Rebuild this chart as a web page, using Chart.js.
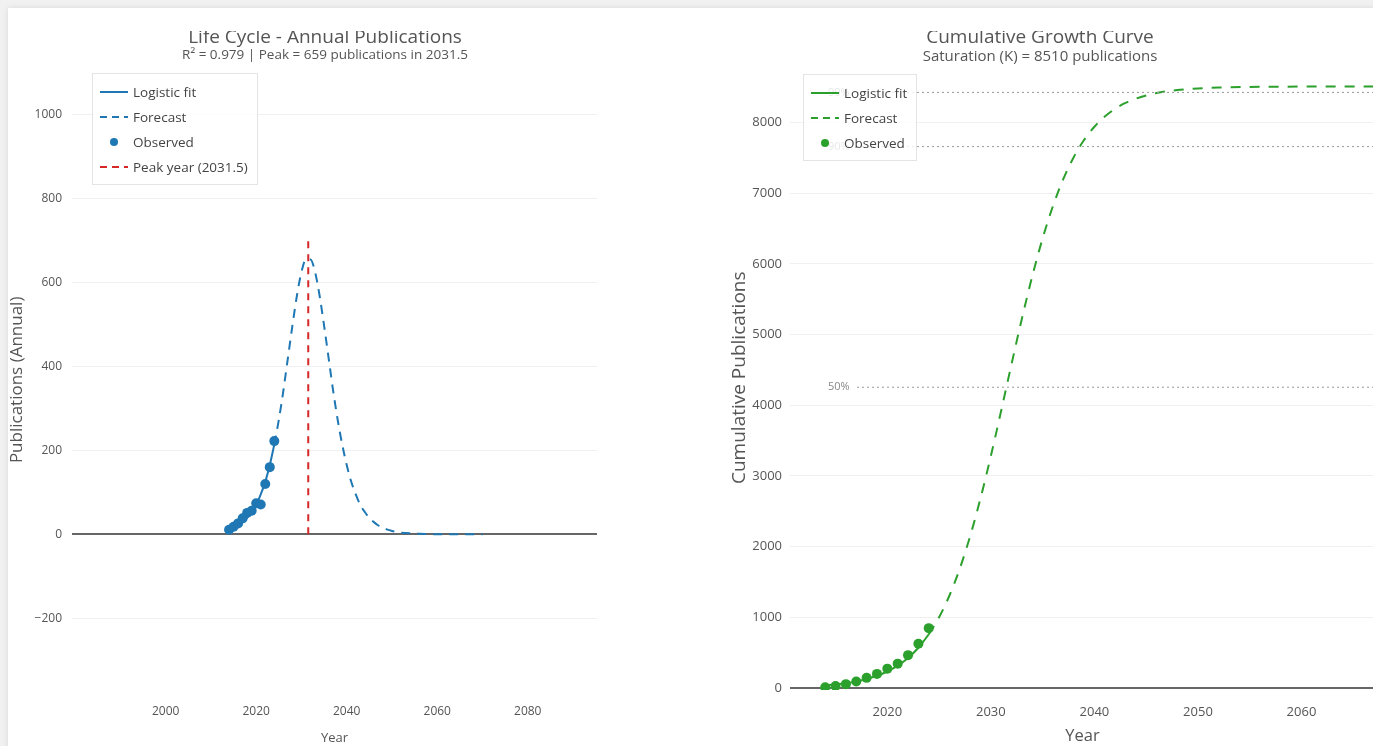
<!DOCTYPE html>
<html>
<head>
<meta charset="utf-8">
<title>Life Cycle & Cumulative Growth</title>
<script src="https://cdn.jsdelivr.net/npm/chart.js@4.4.1/dist/chart.umd.min.js"></script>
<style>
  html, body { margin:0; padding:0; width:1373px; height:746px; overflow:hidden; background:#f1f1f1; font-family:"Open Sans", sans-serif; }
  .card { position:absolute; left:8px; top:8px; width:1420px; height:800px; background:#fff; box-shadow:0 0 6px rgba(0,0,0,.10); }
  .panel { position:absolute; top:0; height:746px; }
  #leftPanel { left:0; width:650px; }
  #rightPanel { left:700px; width:680px; }
  .topband { position:absolute; left:8px; top:8px; width:1400px; height:23px; background:#fff; }
  .legend { position:absolute; margin:0; padding:5px 9px 5px 6px; list-style:none; background:rgba(255,255,255,.8); border:1px solid #e4e4e4; font-size:13.5px; color:#444; }
  .legend li { display:flex; align-items:center; height:25px; white-space:nowrap; }
  .legend svg { margin-right:4px; }
</style>
</head>
<body>
<div class="card"></div>
<div class="panel" id="leftPanel"><canvas id="chartLifeCycle"></canvas></div>
<div class="panel" id="rightPanel"><canvas id="chartCumulative"></canvas></div>
<div class="topband"></div>
<ul class="legend" id="legendLeft" style="left:92px;top:73px"></ul>
<ul class="legend" id="legendRight" style="left:803px;top:74px"></ul>

<script>
/* observed publications */
const obsYears = [2014, 2015, 2016, 2017, 2018, 2019, 2020, 2021, 2022, 2023, 2024];
const obsAnnual = [11, 18, 26, 38, 51, 56, 74, 71, 120, 160, 222];
const obsCumulative = [11, 29, 55, 93, 144, 200, 274, 345, 465, 625, 847];

/* logistic fit over the observed range */
const fitAnnual = [12, 16, 21, 29, 39, 53, 70, 95, 125, 165, 214];
const fitCumulative = [37, 51, 69, 94, 128, 173, 234, 316, 425, 570, 758];

/* forecast */
const fcYears = [2024, 2025, 2026, 2027, 2028, 2029, 2030, 2031, 2032, 2033, 2034, 2035, 2036, 2037,
  2038, 2039, 2040, 2041, 2042, 2043, 2044, 2045, 2046, 2047, 2048, 2049, 2050, 2052, 2055, 2060, 2065, 2070];
const fcAnnual = [214, 273, 342, 420, 497, 569, 625, 655, 655, 625, 569, 497, 420, 342,
  273, 214, 165, 125, 95, 70, 53, 39, 29, 21, 16, 11, 8, 4, 2, 0, 0, 0];
const fcCumulative = [758, 1001, 1309, 1690, 2149, 2684, 3283, 3925, 4585, 5227, 5826, 6361, 6820, 7201,
  7509, 7752, 7940, 8084, 8194, 8276, 8337, 8382, 8416, 8441, 8459, 8472, 8482, 8494, 8502, 8508, 8510, 8510];

/* peak + saturation */
const peakYear = 2031.5;
const peakLine = [0, 700];
const satLabels = ['99%', '90%', '50%'];
const satValues = [8425, 7659, 4255];

/* ticks */
const lifeXTicks = [2000, 2020, 2040, 2060, 2080];
const lifeYTicks = [-200, 0, 200, 400, 600, 800, 1000];
const cumXTicks = [2020, 2030, 2040, 2050, 2060];
const cumYTicks = [0, 1000, 2000, 3000, 4000, 5000, 6000, 7000, 8000];

const BLUE = '#1f77b4', GREEN = '#2ca02c', RED = '#d62728';
const FONT = '"Open Sans", sans-serif';
const TXT = '#555';
const pts = (xs, ys) => xs.map((x, i) => ({ x, y: ys[i] }));

// zero line darker, rest faint
const gridColor = c => c.tick && c.tick.value === 0 ? '#666' : '#f0f0f0';
const gridWidth = c => c.tick && c.tick.value === 0 ? 2 : 1;

function baseOptions(o) {
  const scales = {
    x: {
      type: 'linear', min: o.xMin, max: o.xMax,
      grid: { display: false },
      border: { display: false },
      afterBuildTicks: s => { s.ticks = o.xTicks.map(v => ({ value: v })); },
      afterFit: s => { s.height = 56; },
      ticks: { color: TXT, font: { family: FONT, size: o.tickSize }, padding: 6, callback: v => String(v) },
      title: { display: true, text: 'Year', color: TXT, font: { family: FONT, size: o.xTitleSize }, padding: { top: 7, bottom: 0 } },
    },
    y: {
      min: o.yMin, max: o.yMax,
      grid: { color: gridColor, lineWidth: gridWidth, drawTicks: false },
      border: { display: false },
      afterBuildTicks: s => { s.ticks = o.yTicks.map(v => ({ value: v })); },
      afterFit: s => { s.width = o.yWidth; },
      ticks: { color: TXT, font: { family: FONT, size: o.tickSize }, padding: o.yTickPad, callback: v => String(v).replace('-', '\u2212') },
      title: { display: true, text: o.yTitle, color: TXT, font: { family: FONT, size: o.yTitleSize }, padding: { top: o.yTitlePad, bottom: 0 } },
    },
  };
  // empty right-hand gutter so the title centres over the whole panel
  if (o.rightGutter) {
    scales.gutter = {
      axis: 'y', position: 'right', min: 0, max: 1,
      grid: { display: false }, border: { display: false }, ticks: { display: false },
      afterFit: s => { s.width = o.rightGutter; },
    };
  }
  return {
    responsive: true,
    maintainAspectRatio: false,
    animation: false,
    layout: { padding: 0 },
    plugins: {
      legend: { display: false },
      tooltip: { enabled: false },
      title: { display: true, text: o.title, color: TXT, font: { family: FONT, size: 19, weight: 'normal', lineHeight: 1 }, padding: { top: 28.5, bottom: 0 } },
      subtitle: { display: true, text: o.subtitle, color: TXT, font: { family: FONT, size: o.subSize }, padding: { top: 0, bottom: o.subPad } },
    },
    scales,
  };
}

/* ---------- Life cycle (annual) ---------- */
new Chart(document.getElementById('chartLifeCycle'), {
  type: 'line',
  data: {
    datasets: [
      { label: 'Observed', data: pts(obsYears, obsAnnual), showLine: false, pointRadius: 5, pointBorderWidth: 0, pointBackgroundColor: BLUE },
      { label: 'Logistic fit', data: pts(obsYears, fitAnnual), borderColor: BLUE, borderWidth: 2, pointRadius: 0, cubicInterpolationMode: 'monotone' },
      { label: 'Forecast', data: pts(fcYears, fcAnnual), borderColor: BLUE, borderWidth: 2, borderDash: [9, 7], pointRadius: 0, cubicInterpolationMode: 'monotone' },
      { label: `Peak year (${peakYear})`, data: peakLine.map(y => ({ x: peakYear, y })), borderColor: RED, borderWidth: 2, borderDash: [7, 6], pointRadius: 0 },
    ],
  },
  options: baseOptions({
    title: 'Life Cycle - Annual Publications',
    subtitle: `R\u00b2 = 0.979 | Peak = 659 publications in ${peakYear}`,
    subSize: 13.5, subPad: 6,
    xMin: 1979.3, xMax: 2095.3, yMin: -371, yMax: 1107,
    xTicks: lifeXTicks, yTicks: lifeYTicks, tickSize: 12, xTitleSize: 13,
    yTitle: 'Publications (Annual)', yTitleSize: 17, yTitlePad: 7, yWidth: 72, yTickPad: 10,
    rightGutter: 53,
  }),
});

/* ---------- Cumulative growth ---------- */
const saturationLines = {
  id: 'saturationLines',
  afterDatasetsDraw(chart) {
    const { ctx, chartArea: a, scales: { y } } = chart;
    ctx.save();
    ctx.font = `11px ${FONT}`;
    ctx.textBaseline = 'middle';
    satValues.forEach((v, i) => {
      const py = y.getPixelForValue(v);
      ctx.strokeStyle = '#999';
      ctx.lineWidth = 1;
      ctx.setLineDash([2, 3]);
      ctx.beginPath();
      ctx.moveTo(a.left + 67, py);
      ctx.lineTo(a.right, py);
      ctx.stroke();
      ctx.fillStyle = '#888';
      ctx.fillText(satLabels[i], a.left + 38, py);
    });
    ctx.restore();
  },
};

new Chart(document.getElementById('chartCumulative'), {
  type: 'line',
  data: {
    datasets: [
      { label: 'Observed', data: pts(obsYears, obsCumulative), showLine: false, pointRadius: 5, pointBorderWidth: 0, pointBackgroundColor: GREEN },
      { label: 'Logistic fit', data: pts(obsYears, fitCumulative), borderColor: GREEN, borderWidth: 2, pointRadius: 0, cubicInterpolationMode: 'monotone' },
      { label: 'Forecast', data: pts(fcYears, fcCumulative), borderColor: GREEN, borderWidth: 2, borderDash: [10, 9], pointRadius: 0, cubicInterpolationMode: 'monotone' },
    ],
  },
  options: baseOptions({
    title: 'Cumulative Growth Curve',
    subtitle: 'Saturation (K) = 8510 publications',
    subSize: 15, subPad: 0,
    xMin: 2010.6, xMax: 2067.1, yMin: -28, yMax: 8806,
    xTicks: cumXTicks, yTicks: cumYTicks, tickSize: 13, xTitleSize: 16.5,
    yTitle: 'Cumulative Publications', yTitleSize: 19, yTitlePad: 28, yWidth: 90, yTickPad: 8,
    rightGutter: 0,
  }),
  plugins: [saturationLines],
});

/* legends */
function sample(kind, color) {
  if (kind === 'dot') return `<svg width="30" height="10"><circle cx="15" cy="5" r="4" fill="${color}"/></svg>`;
  const dash = kind === 'dash' ? ' stroke-dasharray="7,5"' : '';
  return `<svg width="30" height="10"><line x1="1" y1="5" x2="29" y2="5" stroke="${color}" stroke-width="2"${dash}/></svg>`;
}
const legendLeft = [
  { label: 'Logistic fit', kind: 'line', color: BLUE },
  { label: 'Forecast', kind: 'dash', color: BLUE },
  { label: 'Observed', kind: 'dot', color: BLUE },
  { label: `Peak year (${peakYear})`, kind: 'dash', color: RED },
];
const legendRight = [
  { label: 'Logistic fit', kind: 'line', color: GREEN },
  { label: 'Forecast', kind: 'dash', color: GREEN },
  { label: 'Observed', kind: 'dot', color: GREEN },
];
document.getElementById('legendLeft').innerHTML = legendLeft.map(d => `<li>${sample(d.kind, d.color)}${d.label}</li>`).join('');
document.getElementById('legendRight').innerHTML = legendRight.map(d => `<li>${sample(d.kind, d.color)}${d.label}</li>`).join('');
</script>
</body>
</html>
